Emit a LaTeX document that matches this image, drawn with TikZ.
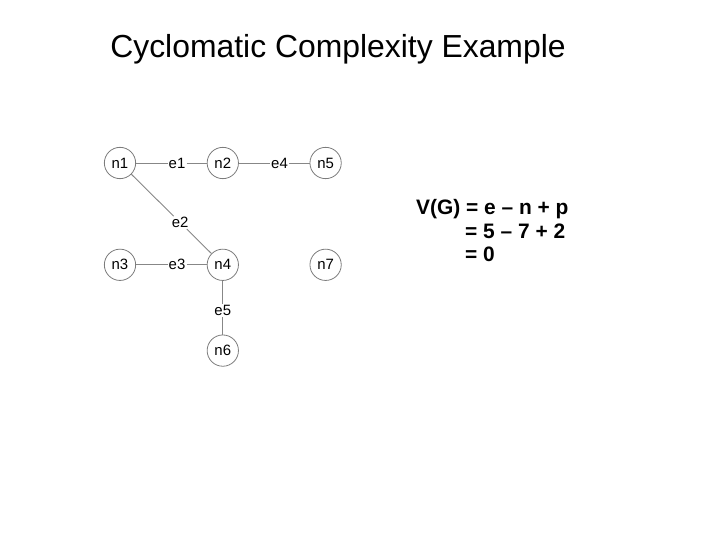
\documentclass[tikz,border=0pt]{standalone}
\usepackage{fontspec}
\setmainfont{Liberation Sans}
\usetikzlibrary{positioning}
\definecolor{ring}{HTML}{7C7C7C}
\definecolor{link}{HTML}{878787}
\tikzset{
  vertex/.style={circle,draw=ring,line width=0.8bp,minimum size=31.3bp,inner sep=0pt,font=\fontsize{15}{18}\selectfont},
  edgelbl/.style={inner sep=1bp,font=\fontsize{15}{18}\selectfont},
  link/.style={draw=link,line width=0.9bp},
  formula/.style={anchor=base west,inner sep=0pt,font=\fontsize{21}{25}\selectfont\bfseries}
}

\begin{document}
\begin{tikzpicture}[x=1bp,y=-1bp]
\useasboundingbox (0,0) rectangle (720,540);
\node[anchor=base,font=\fontsize{32}{38}\selectfont] (title) at (338,58) {Cyclomatic Complexity Example};

% vertices
\node[vertex] (n1) at (120,163) {n1};
\node[vertex,right=70.7bp of n1] (n2) {n2};
\node[vertex,right=70.7bp of n2] (n5) {n5};
\node[vertex,below=69.7bp of n1] (n3) {n3};
\node[vertex,below=69.7bp of n2] (n4) {n4};
\node[vertex,below=69.7bp of n5] (n7) {n7};
\node[vertex,below=53.7bp of n4] (n6) {n6};

% edges
\path (n1) -- node[edgelbl,pos=0.58] (e1) {e1} (n2);
\path (n1) -- node[edgelbl,pos=0.61] (e2) {e2} (n4);
\path (n3) -- node[edgelbl,pos=0.58] (e3) {e3} (n4);
\path (n2) -- node[edgelbl,pos=0.575] (e4) {e4} (n5);
\path (n4) -- node[edgelbl,pos=0.55] (e5) {e5} (n6);
\draw[link] (n1) -- (e1) -- (n2);
\draw[link] (n1) -- (e2) -- (n4);
\draw[link] (n3) -- (e3) -- (n4);
\draw[link] (n2) -- (e4) -- (n5);
\draw[link] (n4) -- (e5) -- (n6);

% formula
\node[formula] (vg) at (416,215) {V(G) = e – n + p};
\node[formula] (subst) at (465,238.5) {= 5 – 7 + 2};
\node[formula] (result) at (465,262) {= 0};
\end{tikzpicture}
\end{document}
